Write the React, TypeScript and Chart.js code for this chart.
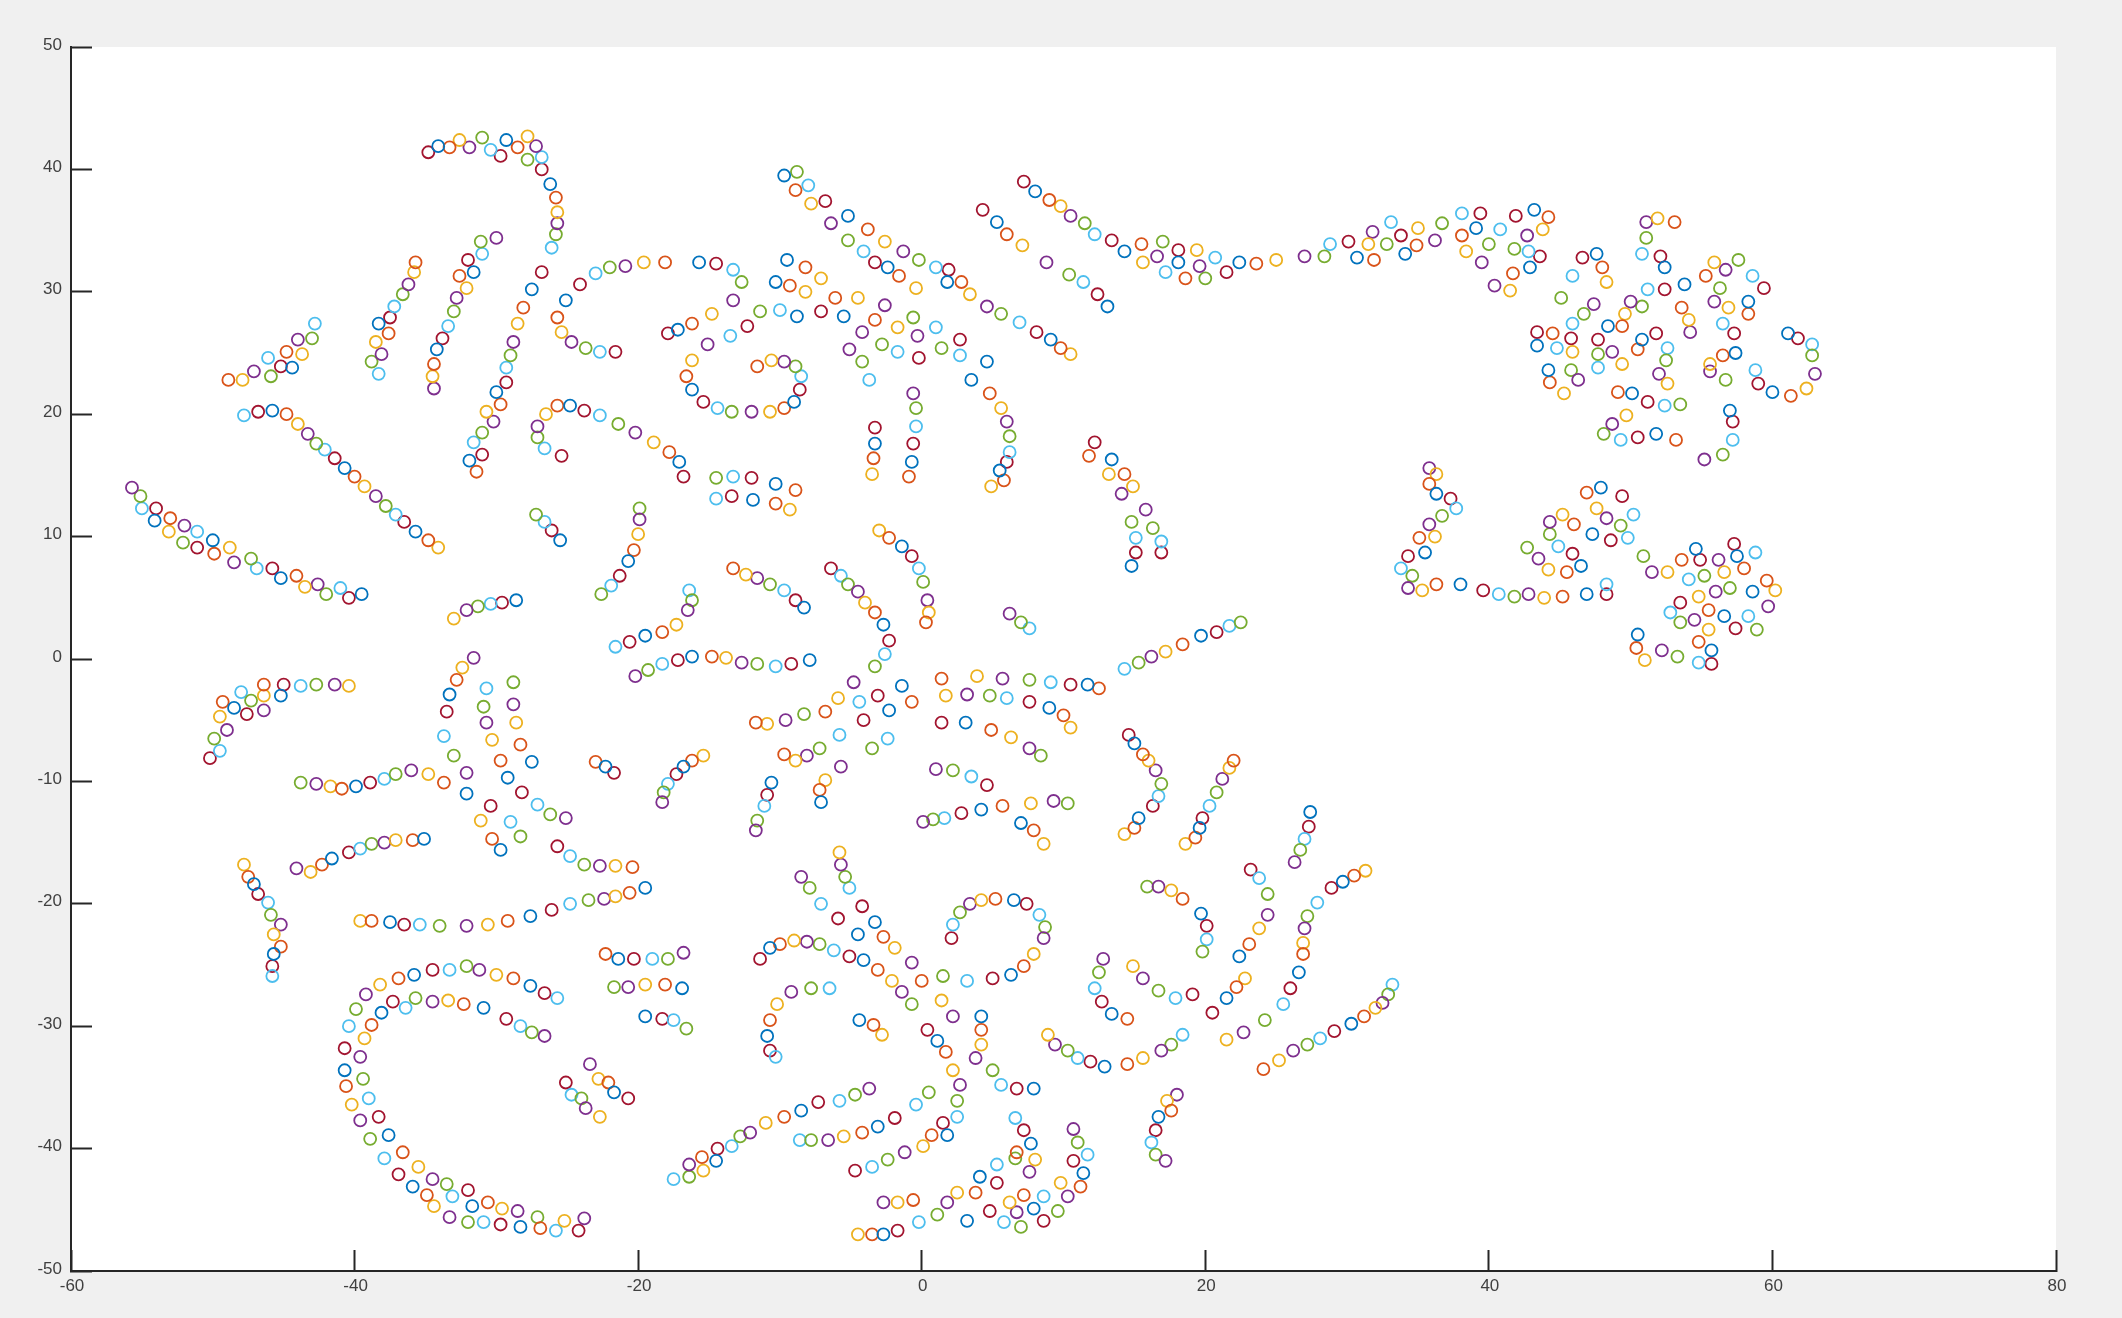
import React, { useEffect, useRef } from "react";
import { Chart, registerables } from "chart.js";

Chart.register(...registerables);

const B = 0, O = 1, Y = 2, P = 3, G = 4, C = 5, R = 6;
type Pt = [number, number, number];

const seriesColors = ["#0072BD", "#D95319", "#EDB120", "#7E2F8E", "#77AC30", "#4DBEEE", "#A2142F"];
const xTickRange = { min: -60, max: 80, step: 20 };
const yTickRange = { min: -50, max: 50, step: 10 };

const topLeftArcs: Pt[] = [
  [R,-34.8,41.4],[B,-34.1,41.9],[O,-33.3,41.8],[Y,-32.6,42.4],[P,-31.9,41.8],[G,-31.0,42.6],[C,-30.4,41.6],[R,-29.7,41.1],[B,-29.3,42.4],[O,-28.5,41.8],[Y,-27.8,42.7],[P,-27.2,41.9],[G,-27.8,40.8],[C,-26.8,41.0],[R,-26.8,40.0],[B,-26.2,38.8],[O,-25.8,37.7],[Y,-25.7,36.5],[P,-25.7,35.6],[G,-25.8,34.7],[C,-26.1,33.6],
  [O,-48.9,22.8],[Y,-47.9,22.8],[P,-47.1,23.5],[G,-45.9,23.1],[C,-46.1,24.6],[R,-45.2,23.9],[B,-44.4,23.8],[O,-44.8,25.1],[Y,-43.7,24.9],[P,-44.0,26.1],[G,-43.0,26.2],[C,-42.8,27.4],
  [G,-38.8,24.3],[C,-38.3,23.3],[P,-38.1,24.9],[Y,-38.5,25.9],[O,-37.6,26.6],[B,-38.3,27.4],[R,-37.5,27.9],[C,-37.2,28.8],[G,-36.6,29.8],[P,-36.2,30.6],[Y,-35.8,31.6],[O,-35.7,32.4],
  [P,-34.4,22.1],[Y,-34.5,23.1],[O,-34.4,24.1],[B,-34.2,25.3],[R,-33.8,26.2],[C,-33.4,27.2],[G,-33.0,28.4],[P,-32.8,29.5],[Y,-32.1,30.3],[O,-32.6,31.3],[B,-31.6,31.6],[R,-32.0,32.6],[C,-31.0,33.1],[G,-31.1,34.1],[P,-30.0,34.4],
  [R,-26.8,31.6],[B,-27.5,30.2],[O,-28.1,28.7],[Y,-28.5,27.4],[P,-28.8,25.9],[G,-29.0,24.8],[C,-29.3,23.8],[R,-29.3,22.6],[B,-30.0,21.8],[O,-29.7,20.8],[Y,-30.7,20.2],[P,-30.2,19.4],[G,-31.0,18.5],[C,-31.6,17.7],[R,-31.0,16.7],[B,-31.9,16.2],[O,-31.4,15.3],
];

const upperCenterSwirl: Pt[] = [
  [R,-24.1,30.6],[B,-25.1,29.3],[O,-25.7,27.9],[Y,-25.4,26.7],[P,-24.7,25.9],[G,-23.7,25.4],[C,-22.7,25.1],[R,-21.6,25.1],
  [C,-23.0,31.5],[G,-22.0,32.0],[P,-20.9,32.1],[Y,-19.6,32.4],[O,-18.1,32.4],[B,-15.7,32.4],[R,-14.5,32.3],[C,-13.3,31.8],[G,-12.7,30.8],[P,-13.3,29.3],[Y,-14.8,28.2],[O,-16.2,27.4],[B,-17.2,26.9],[R,-17.9,26.6],
  [C,-13.5,26.4],[P,-15.1,25.7],[Y,-16.2,24.4],[O,-16.6,23.1],[B,-16.2,22.0],[R,-15.4,21.0],[C,-14.4,20.5],[G,-13.4,20.2],[P,-12.0,20.2],[Y,-10.7,20.2],[O,-9.7,20.5],[B,-9.0,21.0],[R,-8.6,22.0],[C,-8.5,23.1],[G,-8.9,23.9],[P,-9.7,24.3],[Y,-10.6,24.4],[O,-11.6,23.9],
  [R,-12.3,27.2],[G,-11.4,28.4],[C,-10.0,28.5],[B,-8.8,28.0],[R,-7.1,28.4],[O,-6.1,29.5],[Y,-4.5,29.5],[B,-5.5,28.0],[P,-2.6,28.9],[O,-3.3,27.7],[P,-4.2,26.7],[Y,-1.7,27.1],[G,-0.6,27.9],[C,1.0,27.1],[P,-0.3,26.4],[G,-2.8,25.7],[C,-1.7,25.1],[R,-0.2,24.6],[G,1.4,25.4],[R,2.7,26.1],[C,2.7,24.8],[P,-5.1,25.3],[G,-4.2,24.3],[C,-3.7,22.8],
  [B,4.6,24.3],[B,3.5,22.8],[O,4.8,21.7],[Y,5.6,20.5],[P,6.0,19.4],[G,6.2,18.2],[C,6.2,16.9],[R,6.0,16.1],[B,5.5,15.4],[O,5.8,14.6],[Y,4.9,14.1],
  [P,-0.6,21.7],[G,-0.4,20.5],[C,-0.4,19.0],[R,-0.6,17.6],[B,-0.7,16.1],[O,-0.9,14.9],[R,-3.3,18.9],[B,-3.3,17.6],[O,-3.4,16.4],[Y,-3.5,15.1],
];

const topDiagonalBand: Pt[] = [
  [B,-9.7,39.5],[G,-8.8,39.8],[O,-8.9,38.3],[C,-8.0,38.7],[Y,-7.8,37.2],[R,-6.8,37.4],[P,-6.4,35.6],[B,-5.2,36.2],[G,-5.2,34.2],[O,-3.8,35.1],[C,-4.1,33.3],[Y,-2.6,34.1],[R,-3.3,32.4],[B,-2.4,32.0],[P,-1.3,33.3],[G,-0.2,32.6],[O,-1.6,31.3],[Y,-0.4,30.3],[C,1.0,32.0],[R,1.9,31.8],[B,1.8,30.8],[O,2.8,30.8],[Y,3.4,29.8],[P,4.6,28.8],[G,5.6,28.2],[C,6.9,27.5],[R,8.1,26.7],[B,9.1,26.1],[O,9.8,25.4],[Y,10.5,24.9],
  [B,-9.5,32.6],[O,-8.2,32.0],[Y,-7.1,31.1],[B,-10.3,30.8],[O,-9.3,30.5],[Y,-8.2,30.0],
  [R,4.3,36.7],[B,5.3,35.7],[O,6.0,34.7],[Y,7.1,33.8],[P,8.8,32.4],[G,10.4,31.4],[C,11.4,30.8],[R,12.4,29.8],[B,13.1,28.8],
  [R,7.2,39.0],[B,8.0,38.2],[O,9.0,37.5],[Y,9.8,37.0],[P,10.5,36.2],[G,11.5,35.6],[C,12.2,34.7],[R,13.4,34.2],[B,14.3,33.3],[O,15.5,33.9],[Y,15.6,32.4],[P,16.6,32.9],[G,17.0,34.1],[C,17.2,31.6],[R,18.1,33.4],[B,18.1,32.4],[O,18.6,31.1],[Y,19.4,33.4],[P,19.6,32.1],[G,20.0,31.1],[C,20.7,32.8],[R,21.5,31.6],[B,22.4,32.4],[O,23.6,32.3],[Y,25.0,32.6],[P,27.0,32.9],[G,28.4,32.9],[C,28.8,33.9],[B,30.7,32.8],[R,30.1,34.1],[Y,31.5,33.9],[O,31.9,32.6],[P,31.8,34.9],[C,33.1,35.7],[G,32.8,33.9],[R,33.8,34.6],[B,34.1,33.1],[O,34.9,33.8],[Y,35.0,35.2],[P,36.2,34.2],[G,36.7,35.6],[C,38.1,36.4],[R,39.4,36.4],[O,38.1,34.6],[B,39.1,35.2],[Y,38.4,33.3],[G,40.0,33.9],[P,39.5,32.4],[C,40.8,35.1],
  [R,41.9,36.2],[B,43.2,36.7],[O,44.2,36.1],[Y,43.8,35.1],[P,42.7,34.6],[G,41.8,33.5],[C,42.8,33.3],[R,43.6,32.9],[B,42.9,32.0],[O,41.7,31.5],[P,40.4,30.5],[Y,41.5,30.1],
];

const upperRightCluster: Pt[] = [
  [R,46.6,32.8],[B,47.6,33.1],[O,48.0,32.0],[Y,48.3,30.8],[C,45.9,31.3],[G,45.1,29.5],[P,47.4,29.0],[G,46.7,28.2],[C,45.9,27.4],[R,43.4,26.7],[O,44.5,26.6],[R,45.8,26.2],[B,43.4,25.6],[C,44.8,25.4],[Y,45.9,25.1],[B,44.2,23.6],[G,45.8,23.6],[P,46.3,22.8],[O,44.3,22.6],[Y,45.3,21.7],
  [P,50.0,29.2],[G,50.8,28.8],[Y,49.6,28.2],[O,49.4,27.2],[B,48.4,27.2],[R,47.7,26.1],[G,47.7,24.9],[P,48.7,25.1],[C,47.7,23.8],[Y,49.4,24.1],[R,51.8,26.6],[B,50.8,26.1],[O,50.5,25.3],[C,52.6,25.4],[G,52.5,24.4],[P,52.0,23.3],[Y,52.6,22.5],[O,49.1,21.8],[B,50.1,21.7],[R,51.2,21.0],[C,52.4,20.7],[G,53.5,20.8],[Y,49.7,19.9],[P,48.7,19.2],[G,48.1,18.4],[C,49.3,17.9],[R,50.5,18.1],[B,51.8,18.4],[O,53.2,17.9],
  [P,51.1,35.7],[Y,51.9,36.0],[O,53.1,35.7],[G,51.1,34.4],[C,50.8,33.1],[R,52.1,32.9],[B,52.4,32.0],[C,51.2,30.2],[R,52.4,30.2],[B,53.8,30.6],[O,53.6,28.7],[Y,54.1,27.7],[P,54.2,26.7],
  [Y,55.9,32.4],[G,57.6,32.6],[P,56.7,31.8],[O,55.3,31.3],[C,58.6,31.3],[R,59.4,30.3],[G,56.3,30.3],[P,55.9,29.2],[Y,56.9,28.7],[B,58.3,29.2],[O,58.3,28.2],[C,56.5,27.4],[R,57.3,26.6],[B,57.4,25.0],[O,56.5,24.8],[Y,55.6,24.1],[P,55.6,23.5],[G,56.7,22.8],[C,58.8,23.6],[R,59.0,22.5],[B,60.0,21.8],[O,61.3,21.5],[Y,62.4,22.1],[P,63.0,23.3],[G,62.8,24.8],[C,62.8,25.7],[R,61.8,26.2],[B,61.1,26.6],[B,57.0,20.3],[R,57.2,19.4],[C,57.2,17.9],[G,56.5,16.7],[P,55.2,16.3],
];

const leftMiddleStrands: Pt[] = [
  [B,-24.8,20.7],[R,-23.8,20.3],[C,-22.7,19.9],[G,-21.4,19.2],[P,-20.2,18.5],[Y,-18.9,17.7],[O,-17.8,16.9],[B,-17.1,16.1],[R,-16.8,14.9],
  [O,-25.7,20.7],[Y,-26.5,20.0],[P,-27.1,19.0],[G,-27.1,18.1],[C,-26.6,17.2],[R,-25.4,16.6],
  [C,-47.8,19.9],[R,-46.8,20.2],[B,-45.8,20.3],[O,-44.8,20.0],[Y,-44.0,19.2],[P,-43.3,18.4],[G,-42.7,17.6],[C,-42.1,17.1],[R,-41.4,16.4],[B,-40.7,15.6],[O,-40.0,14.9],[Y,-39.3,14.1],[P,-38.5,13.3],[G,-37.8,12.5],[C,-37.1,11.8],[R,-36.5,11.2],[B,-35.7,10.4],[O,-34.8,9.7],[Y,-34.1,9.1],
  [P,-55.7,14.0],[G,-55.1,13.3],[C,-55.0,12.3],[R,-54.0,12.3],[B,-54.1,11.3],[O,-53.0,11.5],[Y,-53.1,10.4],[P,-52.0,10.9],[C,-51.1,10.4],[G,-52.1,9.5],[R,-51.1,9.1],[B,-50.0,9.7],[O,-49.9,8.6],[Y,-48.8,9.1],[P,-48.5,7.9],[G,-47.3,8.2],[C,-46.9,7.4],[R,-45.8,7.4],[B,-45.2,6.6],[O,-44.1,6.8],[Y,-43.5,5.9],[P,-42.6,6.1],[G,-42.0,5.3],[C,-41.0,5.8],[R,-40.4,5.0],[B,-39.5,5.3],
  [Y,-33.0,3.3],[P,-32.1,4.0],[G,-31.3,4.3],[C,-30.4,4.5],[R,-29.6,4.6],[B,-28.6,4.8],
  [G,-27.2,11.8],[C,-26.6,11.2],[R,-26.1,10.5],[B,-25.5,9.7],
  [R,-50.2,-8.1],[C,-49.5,-7.5],[G,-49.9,-6.5],[P,-49.0,-5.8],[Y,-49.5,-4.7],[O,-49.3,-3.5],[B,-48.5,-4.0],[C,-48.0,-2.7],[R,-47.6,-4.5],[G,-47.3,-3.4],[P,-46.4,-4.2],[Y,-46.4,-3.0],[O,-46.4,-2.1],[B,-45.2,-3.0],[R,-45.0,-2.1],[C,-43.8,-2.2],[G,-42.7,-2.1],[P,-41.4,-2.1],[Y,-40.4,-2.2],
  [G,-43.8,-10.1],[P,-42.7,-10.2],[Y,-41.7,-10.4],[O,-40.9,-10.6],[B,-39.9,-10.4],[R,-38.9,-10.1],[C,-37.9,-9.8],[G,-37.1,-9.4],[P,-36.0,-9.1],[Y,-34.8,-9.4],[O,-33.7,-10.1],
  [P,-31.6,0.1],[Y,-32.4,-0.7],[O,-32.8,-1.7],[B,-33.3,-2.9],[R,-33.5,-4.3],[C,-33.7,-6.3],[G,-33.0,-7.9],[P,-32.1,-9.3],[B,-32.1,-11.0],
  [C,-30.7,-2.4],[G,-30.9,-3.9],[P,-30.7,-5.2],[Y,-30.3,-6.6],[O,-29.7,-8.3],[B,-29.2,-9.7],[R,-28.2,-10.9],[C,-27.1,-11.9],[G,-26.2,-12.7],[P,-25.1,-13.0],
  [G,-28.8,-1.9],[P,-28.8,-3.7],[Y,-28.6,-5.2],[O,-28.3,-7.0],[B,-27.5,-8.4],
  [R,-30.4,-12.0],[Y,-31.1,-13.2],[C,-29.0,-13.3],[G,-28.3,-14.5],[O,-30.3,-14.7],[B,-29.7,-15.6],
  [R,-25.7,-15.3],[C,-24.8,-16.1],[G,-23.8,-16.8],[P,-22.7,-16.9],[Y,-21.6,-16.9],[O,-20.4,-17.0],
  [P,-44.1,-17.1],[Y,-43.1,-17.4],[O,-42.3,-16.8],[B,-41.6,-16.3],[R,-40.4,-15.8],[C,-39.6,-15.5],[G,-38.8,-15.1],[P,-37.9,-15.0],[Y,-37.1,-14.8],[O,-35.9,-14.8],[B,-35.1,-14.7],
];

const lowerLeftCurves: Pt[] = [
  [Y,-47.8,-16.8],[O,-47.5,-17.8],[B,-47.1,-18.4],[R,-46.8,-19.2],[C,-46.1,-19.9],[G,-45.9,-20.9],[P,-45.2,-21.7],[Y,-45.7,-22.5],[O,-45.2,-23.5],[B,-45.7,-24.1],[R,-45.8,-25.1],[C,-45.8,-25.9],
  [Y,-39.6,-21.4],[O,-38.8,-21.4],[B,-37.5,-21.5],[R,-36.5,-21.7],[C,-35.4,-21.7],[G,-34.0,-21.8],[P,-32.1,-21.8],[Y,-30.6,-21.7],[O,-29.2,-21.4],[B,-27.6,-21.0],[R,-26.1,-20.5],[C,-24.8,-20.0],[G,-23.5,-19.7],[P,-22.4,-19.6],[Y,-21.6,-19.4],[O,-20.6,-19.1],[B,-19.5,-18.7],
  [O,-22.3,-24.1],[B,-21.4,-24.5],[R,-20.3,-24.5],[C,-19.0,-24.5],[G,-17.9,-24.5],[P,-16.8,-24.0],
  [G,-21.7,-26.8],[P,-20.7,-26.8],[Y,-19.5,-26.6],[O,-18.1,-26.6],[B,-16.9,-26.9],
  [B,-19.5,-29.2],[R,-18.3,-29.4],[C,-17.5,-29.5],[G,-16.6,-30.2],
  [C,-25.7,-27.7],[R,-26.6,-27.3],[B,-27.6,-26.7],[O,-28.8,-26.1],[Y,-30.0,-25.8],[P,-31.2,-25.4],[G,-32.1,-25.1],[C,-33.3,-25.4],[R,-34.5,-25.4],[B,-35.8,-25.8],[O,-36.9,-26.1],[Y,-38.2,-26.6],[P,-39.2,-27.4],[G,-39.9,-28.6],[C,-40.4,-30.0],[R,-40.7,-31.8],[B,-40.7,-33.6],[O,-40.6,-34.9],[Y,-40.2,-36.4],[P,-39.6,-37.7],[G,-38.9,-39.2],[C,-37.9,-40.8],[R,-36.9,-42.1],[B,-35.9,-43.1],[O,-34.9,-43.8],[Y,-34.4,-44.7],[P,-33.3,-45.6],[G,-32.0,-46.0],[C,-30.9,-46.0],[R,-29.7,-46.2],[B,-28.3,-46.4],[O,-26.9,-46.5],[C,-25.8,-46.7],[R,-24.2,-46.7],[Y,-25.2,-45.9],[P,-23.8,-45.7],[G,-27.1,-45.6],
  [P,-26.6,-30.8],[G,-27.5,-30.5],[C,-28.3,-30.0],[R,-29.3,-29.4],[B,-30.9,-28.5],[O,-32.3,-28.2],[Y,-33.4,-27.9],[P,-34.5,-28.0],[G,-35.7,-27.7],[C,-36.4,-28.5],[R,-37.3,-28.0],[B,-38.1,-28.9],[O,-38.8,-29.9],[Y,-39.3,-31.0],[P,-39.6,-32.5],[G,-39.4,-34.3],[C,-39.0,-35.9],[R,-38.3,-37.4],[B,-37.6,-38.9],[O,-36.6,-40.3],[Y,-35.5,-41.5],[P,-34.5,-42.5],[G,-33.5,-42.9],[C,-33.1,-43.9],[R,-32.0,-43.4],[B,-31.7,-44.7],[O,-30.6,-44.4],[Y,-29.6,-44.9],[P,-28.5,-45.1],
  [P,-23.4,-33.1],[Y,-22.8,-34.3],[O,-22.1,-34.6],[R,-25.1,-34.6],[C,-24.7,-35.6],[G,-24.0,-35.9],[B,-21.7,-35.4],[R,-20.7,-35.9],[P,-23.7,-36.7],[Y,-22.7,-37.4],
];

const bottomCenterCurves: Pt[] = [
  [C,-17.5,-42.5],[G,-16.4,-42.3],[Y,-15.4,-41.8],[B,-14.5,-41.0],[P,-16.4,-41.3],[O,-15.5,-40.7],[R,-14.4,-40.0],[C,-13.4,-39.8],[G,-12.8,-39.0],[P,-12.1,-38.7],[Y,-11.0,-37.9],[O,-9.7,-37.4],[B,-8.5,-36.9],[R,-7.3,-36.2],[C,-5.8,-36.1],[G,-4.7,-35.6],[P,-3.7,-35.1],
  [C,-8.6,-39.3],[G,-7.8,-39.3],[P,-6.6,-39.3],[Y,-5.5,-39.0],[O,-4.2,-38.7],[B,-3.1,-38.2],[R,-1.9,-37.5],[C,-0.4,-36.4],[G,0.5,-35.4],
  [R,-4.7,-41.8],[C,-3.5,-41.5],[G,-2.4,-40.9],[P,-1.2,-40.3],[Y,0.1,-39.8],[O,0.7,-38.9],[B,1.8,-38.9],[R,1.5,-37.9],[C,2.5,-37.4],[G,2.5,-36.1],[P,2.7,-34.8],[Y,2.2,-33.6],[O,1.7,-32.1],[B,1.1,-31.2],[R,0.4,-30.3],
  [Y,-4.5,-47.0],[O,-3.5,-47.0],[B,-2.7,-47.0],[R,-1.7,-46.7],[C,-0.2,-46.0],[G,1.1,-45.4],[P,1.8,-44.4],[Y,2.5,-43.6],[O,3.8,-43.6],[B,4.1,-42.3],[R,5.3,-42.8],[C,5.3,-41.3],
  [P,-2.7,-44.4],[Y,-1.7,-44.4],[O,-0.6,-44.2],
  [B,3.2,-45.9],[R,4.8,-45.1],[C,5.8,-46.0],[G,7.0,-46.4],[P,6.7,-45.2],[Y,6.2,-44.4],[O,7.2,-43.8],[B,7.9,-44.9],[R,8.6,-45.9],[C,8.6,-43.9],[G,9.6,-45.1],[P,10.3,-43.9],[Y,9.8,-42.8],[O,11.2,-43.1],[B,11.4,-42.0],[R,10.7,-41.0],[C,11.7,-40.5],[G,11.0,-39.5],[P,10.7,-38.4],
  [G,6.6,-40.8],[P,7.6,-41.9],[Y,8.0,-40.9],[O,6.7,-40.3],[B,7.7,-39.6],[R,7.2,-38.5],[C,6.6,-37.5],
  [C,-10.3,-32.5],[R,-10.7,-32.0],[B,-10.9,-30.8],[O,-10.7,-29.5],[Y,-10.2,-28.2],[P,-9.2,-27.2],[G,-7.8,-26.9],[C,-6.5,-26.9],
  [B,-4.4,-29.5],[O,-3.4,-29.9],[Y,-2.8,-30.7],
  [R,-11.4,-24.5],[B,-10.7,-23.6],[O,-10.0,-23.3],[Y,-9.0,-23.0],[P,-8.1,-23.1],[G,-7.2,-23.3],[C,-6.2,-23.8],[R,-5.1,-24.3],[B,-4.1,-24.6],[O,-3.1,-25.4],[Y,-2.1,-26.3],[P,-1.4,-27.2],[G,-0.7,-28.2],
  [Y,-5.8,-15.8],[P,-5.7,-16.8],[G,-5.4,-17.8],[C,-5.1,-18.7],[P,-8.5,-17.8],[G,-7.9,-18.7],[C,-7.1,-20.0],[R,-5.9,-21.2],[R,-4.2,-20.2],[B,-3.3,-21.5],[B,-4.5,-22.5],[O,-2.7,-22.7],[Y,-1.9,-23.6],[P,-0.7,-24.8],[O,0.0,-26.3],[G,1.5,-25.9],[C,3.2,-26.3],[R,5.0,-26.1],[B,6.3,-25.8],[O,7.2,-25.1],[Y,7.9,-24.1],[P,8.6,-22.8],[G,8.7,-21.9],[C,8.3,-20.9],[R,7.4,-20.0],[B,6.5,-19.7],[O,5.2,-19.6],[Y,4.2,-19.7],[P,3.4,-20.0],[G,2.7,-20.7],[C,2.2,-21.7],[R,2.1,-22.8],
  [Y,1.4,-27.9],[P,2.2,-29.2],[B,4.2,-29.2],[O,4.2,-30.3],[Y,4.2,-31.5],[P,3.8,-32.6],[G,5.0,-33.6],[C,5.6,-34.8],[R,6.7,-35.1],[B,7.9,-35.1],
];

const lowerRightCurves: Pt[] = [
  [Y,8.9,-30.7],[P,9.4,-31.5],[G,10.3,-32.0],[C,11.0,-32.6],[R,11.9,-32.9],[B,12.9,-33.3],[O,14.5,-33.1],[Y,15.6,-32.6],[P,16.9,-32.0],[G,17.6,-31.5],[C,18.4,-30.7],
  [P,12.8,-24.5],[G,12.5,-25.6],[C,12.2,-26.9],[R,12.7,-28.0],[B,13.4,-29.0],[O,14.5,-29.4],
  [Y,14.9,-25.1],[P,15.6,-26.1],[G,16.7,-27.1],[C,17.9,-27.7],[R,19.1,-27.4],[R,20.5,-28.9],[B,21.5,-27.7],[O,22.2,-26.8],[Y,22.8,-26.1],
  [B,22.4,-24.3],[O,23.1,-23.3],[Y,23.8,-22.0],[P,24.4,-20.9],[G,24.4,-19.2],[C,23.8,-17.9],[R,23.2,-17.2],
  [G,15.9,-18.6],[P,16.7,-18.6],[Y,17.6,-18.9],[O,18.4,-19.6],[B,19.7,-20.8],[R,20.1,-21.8],[C,20.1,-22.9],[G,19.8,-23.9],
  [Y,14.3,-14.3],[O,15.0,-13.8],[B,15.3,-13.0],[R,16.3,-12.0],
  [Y,18.6,-15.1],[O,19.3,-14.6],[B,19.6,-13.8],[R,19.8,-13.0],[C,20.3,-12.0],
  [B,27.4,-12.5],[R,27.3,-13.7],[C,27.0,-14.7],[G,26.7,-15.6],[P,26.3,-16.6],
  [Y,31.3,-17.3],[O,30.5,-17.7],[B,29.7,-18.2],[R,28.9,-18.7],[C,27.9,-19.9],[G,27.2,-21.0],[P,27.0,-22.0],[Y,26.9,-23.2],[O,26.9,-24.1],[B,26.6,-25.6],[R,26.0,-26.9],[C,25.5,-28.2],[G,24.2,-29.5],[P,22.7,-30.5],[Y,21.5,-31.1],
  [C,33.2,-26.6],[G,32.9,-27.4],[P,32.5,-28.1],[Y,32.0,-28.5],[O,31.2,-29.2],[B,30.3,-29.8],[R,29.1,-30.4],[C,28.1,-31.0],[G,27.2,-31.5],[P,26.2,-32.0],[Y,25.2,-32.8],[O,24.1,-33.5],
  [P,18.0,-35.6],[Y,17.3,-36.1],[O,17.6,-36.9],[B,16.7,-37.4],[R,16.5,-38.5],[C,16.2,-39.5],[G,16.5,-40.5],[P,17.2,-41.0],
];

const centerStrands: Pt[] = [
  [G,-19.9,12.3],[P,-19.9,11.4],[Y,-20.0,10.2],[O,-20.3,8.9],[B,-20.7,8.0],[R,-21.3,6.8],[C,-21.9,6.0],[G,-22.6,5.3],
  [C,-16.4,5.6],[G,-16.2,4.8],[P,-16.5,4.0],[Y,-17.3,2.8],[O,-18.3,2.2],[B,-19.5,1.9],[R,-20.6,1.4],[C,-21.6,1.0],
  [P,-20.2,-1.4],[G,-19.3,-0.9],[C,-18.3,-0.4],[R,-17.2,-0.1],[B,-16.2,0.2],[O,-14.8,0.2],[Y,-13.8,0.1],[P,-12.7,-0.3],[G,-11.6,-0.4],[C,-10.3,-0.6],[R,-9.2,-0.4],[B,-7.9,-0.1],
  [O,-13.3,7.4],[Y,-12.4,6.9],[P,-11.6,6.6],[G,-10.7,6.1],[C,-9.7,5.6],[R,-8.9,4.8],[B,-8.3,4.2],
  [C,-14.5,13.1],[R,-13.4,13.3],[B,-11.9,13.0],[O,-10.3,12.7],[Y,-9.3,12.2],[G,-14.5,14.8],[C,-13.3,14.9],[R,-12.0,14.8],[B,-10.3,14.3],[O,-8.9,13.8],
  [Y,-3.0,10.5],[O,-2.3,9.9],[B,-1.4,9.2],[R,-0.7,8.4],[C,-0.2,7.4],[G,0.1,6.3],[P,0.4,4.8],[Y,0.5,3.8],[O,0.3,3.0],
  [R,-6.4,7.4],[C,-5.7,6.8],[G,-5.2,6.1],[P,-4.5,5.5],[Y,-4.0,4.6],[O,-3.3,3.8],[B,-2.7,2.8],[R,-2.3,1.5],[C,-2.6,0.4],[G,-3.3,-0.6],[P,-4.8,-1.9],
  [P,6.2,3.7],[G,7.0,3.0],[C,7.6,2.5],
  [Y,-5.9,-3.2],[O,-6.8,-4.3],[G,-8.3,-4.5],[P,-9.6,-5.0],[Y,-10.9,-5.3],[O,-11.7,-5.2],
  [C,-4.4,-3.5],[R,-3.1,-3.0],[B,-1.4,-2.2],[O,-0.7,-3.5],[B,-2.3,-4.2],[R,-4.1,-5.0],[C,-5.8,-6.2],[G,-7.2,-7.3],[P,-8.1,-7.9],[Y,-8.9,-8.3],[O,-9.7,-7.8],
  [C,-2.4,-6.5],[G,-3.5,-7.3],[P,-5.7,-8.8],[Y,-6.8,-9.9],[O,-7.2,-10.7],[B,-7.1,-11.7],
  [B,-10.6,-10.1],[R,-10.9,-11.1],[C,-11.1,-12.0],[G,-11.6,-13.2],[P,-11.7,-14.0],
  [O,-23.0,-8.4],[B,-22.3,-8.8],[R,-21.7,-9.3],
  [Y,-15.4,-7.9],[O,-16.2,-8.3],[B,-16.8,-8.8],[R,-17.3,-9.4],[C,-17.9,-10.2],[G,-18.2,-10.9],[P,-18.3,-11.7],
  [O,1.4,-1.6],[Y,3.9,-1.4],[P,5.7,-1.6],[G,7.6,-1.7],[C,9.1,-1.9],[R,10.5,-2.1],[B,11.7,-2.1],[O,12.5,-2.4],
  [Y,1.7,-3.0],[P,3.2,-2.9],[G,4.8,-3.0],[C,6.0,-3.2],[R,7.6,-3.5],[B,9.0,-4.0],[O,10.0,-4.6],[Y,10.5,-5.6],
  [R,1.4,-5.2],[B,3.1,-5.2],[O,4.9,-5.8],[Y,6.3,-6.4],[P,7.6,-7.3],[G,8.4,-7.9],
  [P,1.0,-9.0],[G,2.2,-9.1],[C,3.5,-9.6],[R,4.6,-10.3],
  [P,0.1,-13.3],[G,0.8,-13.1],[C,1.6,-13.0],[R,2.8,-12.6],[B,4.2,-12.3],[O,5.7,-12.0],[Y,7.7,-11.8],[P,9.3,-11.6],[G,10.3,-11.8],[B,7.0,-13.4],[O,7.9,-14.0],[Y,8.6,-15.1],
];

const rightMiddleStrands: Pt[] = [
  [C,14.3,-0.8],[G,15.3,-0.3],[P,16.2,0.2],[Y,17.2,0.6],[O,18.4,1.2],[B,19.7,1.9],[R,20.8,2.2],[C,21.7,2.7],[G,22.5,3.0],
  [R,14.6,-6.2],[B,15.0,-6.9],[O,15.6,-7.8],[Y,16.0,-8.3],[P,16.5,-9.1],[G,16.9,-10.2],[C,16.7,-11.2],
  [O,22.0,-8.3],[Y,21.7,-8.9],[P,21.2,-9.8],[G,20.8,-10.9],
  [R,12.2,17.7],[O,11.8,16.6],[B,13.4,16.3],[Y,13.2,15.1],[O,14.3,15.1],[Y,14.9,14.1],[P,14.1,13.5],[P,15.8,12.2],[G,14.8,11.2],[G,16.3,10.7],[C,15.1,9.9],[C,16.9,9.6],[R,15.1,8.7],[R,16.9,8.7],[B,14.8,7.6],
];

const farRightLowerCluster: Pt[] = [
  [P,35.8,15.6],[Y,36.3,15.1],[O,35.8,14.3],[B,36.3,13.5],[R,37.3,13.1],[C,37.7,12.3],[G,36.7,11.7],[P,35.8,11.0],[Y,36.2,10.0],[O,35.1,9.9],[B,35.5,8.7],[R,34.3,8.4],[C,33.8,7.4],[G,34.6,6.8],[P,34.3,5.8],[Y,35.3,5.6],[O,36.3,6.1],[B,38.0,6.1],[R,39.6,5.6],[C,40.7,5.3],[G,41.8,5.1],[P,42.8,5.3],[Y,43.9,5.0],[O,45.2,5.1],[B,46.9,5.3],[C,48.3,6.1],[R,48.3,5.3],
  [O,46.9,13.6],[B,47.9,14.0],[R,49.4,13.3],[Y,47.6,12.3],[P,48.3,11.5],[C,50.2,11.8],[G,49.3,10.9],[O,46.0,11.0],[Y,45.2,11.8],[P,44.3,11.2],[G,44.3,10.2],[C,44.9,9.2],[B,47.3,10.2],[R,48.6,9.7],[C,49.8,9.9],[G,42.7,9.1],[P,43.5,8.2],[R,45.9,8.6],[B,46.5,7.6],[Y,44.2,7.3],[O,45.5,7.1],
  [G,50.9,8.4],[P,51.5,7.1],[Y,52.6,7.1],[O,53.6,8.1],[B,54.6,9.0],[R,54.9,8.1],[P,56.2,8.1],[R,57.3,9.4],[B,57.5,8.4],[C,58.8,8.7],[O,58.0,7.4],[Y,56.6,7.1],[G,55.2,6.8],[C,54.1,6.5],[O,59.6,6.4],[Y,60.2,5.6],[G,57.0,5.8],[P,56.0,5.5],[B,58.6,5.5],[Y,54.8,5.1],[R,53.5,4.6],[P,59.7,4.3],[C,52.8,3.8],[O,55.5,4.0],[B,56.6,3.5],[C,58.3,3.5],[G,53.5,3.0],[P,54.5,3.2],[R,57.4,2.5],[G,58.9,2.4],[Y,55.5,2.4],[B,50.5,2.0],[O,54.8,1.4],[O,50.4,0.9],[P,52.2,0.7],[G,53.3,0.2],[B,55.7,0.7],[Y,51.0,-0.1],[C,54.8,-0.3],[R,55.7,-0.4],
];

const allRegions: Pt[][] = [
  topLeftArcs, upperCenterSwirl, topDiagonalBand, upperRightCluster, leftMiddleStrands,
  lowerLeftCurves, bottomCenterCurves, lowerRightCurves, centerStrands, rightMiddleStrands, farRightLowerCluster,
];

const AXIS_COLOR = "#262626";
const LABEL_COLOR = "#404040";
const FONT = { family: "'Liberation Sans', Arial, sans-serif", size: 17 };

export default function App() {
  const ref = useRef<HTMLCanvasElement>(null);

  useEffect(() => {
    document.body.style.margin = "0";
    document.body.style.background = "#F0F0F0";
    const datasets = seriesColors.map((color, i) => ({
      label: `Series ${i + 1}`,
      data: allRegions.flat().filter((p) => p[0] === i).map((p) => ({ x: p[1], y: p[2] })),
      borderColor: color,
      backgroundColor: "transparent",
      pointBackgroundColor: "transparent",
      pointBorderColor: color,
      pointBorderWidth: 1.8,
      pointRadius: 6,
      pointStyle: "circle" as const,
      showLine: false,
    }));

    const chart = new Chart(ref.current!, {
      type: "scatter",
      data: { datasets },
      plugins: [
        {
          id: "plotBackground",
          beforeDraw(c: any) {
            const { ctx, chartArea: a } = c;
            ctx.save();
            ctx.fillStyle = "#FFFFFF";
            ctx.fillRect(a.left, a.top, a.right - a.left, a.bottom - a.top);
            ctx.restore();
          },
        },
      ],
      options: {
        responsive: false,
        animation: false,
        clip: false,
        layout: { padding: { top: 47, right: 66, bottom: 0, left: 0 } },
        plugins: { legend: { display: false }, tooltip: { enabled: false }, title: { display: false } },
        scales: {
          x: {
            type: "linear",
            min: xTickRange.min,
            max: xTickRange.max,
            afterFit(s: any) { s.height = 47; },
            ticks: {
              stepSize: xTickRange.step,
              color: LABEL_COLOR,
              font: FONT,
              maxRotation: 0,
              padding: 26,
              labelOffset: 1,
            },
            grid: { display: true, drawOnChartArea: false, drawTicks: true, tickLength: -21, tickWidth: 2, tickColor: AXIS_COLOR },
            border: { display: true, color: AXIS_COLOR, width: 2 },
          },
          y: {
            type: "linear",
            min: yTickRange.min,
            max: yTickRange.max,
            afterFit(s: any) { s.width = 71; },
            ticks: {
              stepSize: yTickRange.step,
              color: LABEL_COLOR,
              font: FONT,
              padding: 30,
              labelOffset: -2,
            },
            grid: { display: true, drawOnChartArea: false, drawTicks: true, tickLength: -21, tickWidth: 2, tickColor: AXIS_COLOR },
            border: { display: true, color: AXIS_COLOR, width: 2 },
          },
        },
      } as any,
    });
    return () => chart.destroy();
  }, []);

  return (
    <div style={{ width: 2122, height: 1318, background: "#F0F0F0", overflow: "hidden" }}>
      <canvas ref={ref} width={2122} height={1318} style={{ display: "block", width: 2122, height: 1318, filter: "blur(0.4px)" }} />
    </div>
  );
}
